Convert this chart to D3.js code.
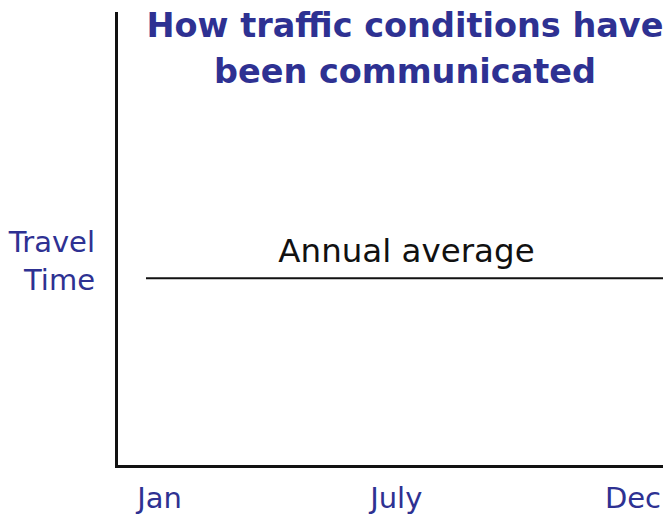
<!DOCTYPE html>
<html>
<head>
  <style>
    body { margin: 0; padding: 0; background: white; overflow: hidden; }
    svg { display: block; font-family: "DejaVu Sans", Verdana, sans-serif; }
  </style>
</head>
<body>
  <div id="chart"></div>
  <script src="https://cdnjs.cloudflare.com/ajax/libs/d3/7.8.5/d3.min.js"></script>
  <script>
    // chart content
    const titleLines = ['How traffic conditions have', 'been communicated'];
    const yLabelLines = ['Travel', 'Time'];
    const xTickLabels = ['Jan', 'July', 'Dec'];
    const averageLabel = 'Annual average';
    const annualAverage = [0.414];   // share of the y range

    const width = 663, height = 516;
    const blue = '#2e3192';
    const axisLeft = 116.5, axisBottom = 466.5, axisTop = 12;

    const svg = d3.select('#chart').append('svg')
      .attr('width', width)
      .attr('height', height);

    const x = d3.scalePoint()
      .domain(xTickLabels)
      .range([159.5, 633]);

    const y = d3.scaleLinear()
      .domain([0, 1])
      .range([axisBottom, axisTop]);

    // axes
    svg.append('line')
      .attr('x1', axisLeft).attr('x2', axisLeft)
      .attr('y1', y(1)).attr('y2', y(0))
      .attr('stroke', '#111').attr('stroke-width', 3);
    svg.append('line')
      .attr('x1', axisLeft - 1.5).attr('x2', width)
      .attr('y1', y(0)).attr('y2', y(0))
      .attr('stroke', '#111').attr('stroke-width', 3);

    // tick labels
    svg.selectAll('.tick-label')
      .data(xTickLabels)
      .enter()
      .append('text')
      .attr('class', 'tick-label')
      .attr('x', d => x(d))
      .attr('y', 508)
      .attr('text-anchor', 'middle')
      .attr('fill', blue)
      .attr('font-size', '29px')
      .text(d => d);

    // annual average line
    svg.selectAll('.avg')
      .data(annualAverage)
      .enter()
      .append('line')
      .attr('class', 'avg')
      .attr('x1', 146).attr('x2', width)
      .attr('y1', d => y(d)).attr('y2', d => y(d))
      .attr('stroke', '#111').attr('stroke-width', 2);

    svg.append('text')
      .attr('x', 406.5)
      .attr('y', y(annualAverage[0]) - 16)
      .attr('text-anchor', 'middle')
      .attr('fill', '#111')
      .attr('font-size', '32.5px')
      .text(averageLabel);

    // y label
    svg.selectAll('.ylab')
      .data(yLabelLines)
      .enter()
      .append('text')
      .attr('class', 'ylab')
      .attr('x', 95)
      .attr('y', (d, i) => 252 + i * 38)
      .attr('text-anchor', 'end')
      .attr('fill', blue)
      .attr('font-size', '29px')
      .text(d => d);

    // title
    svg.selectAll('.title')
      .data(titleLines)
      .enter()
      .append('text')
      .attr('class', 'title')
      .attr('x', 405)
      .attr('y', (d, i) => 37 + i * 46)
      .attr('text-anchor', 'middle')
      .attr('fill', blue)
      .attr('font-size', '33.5px')
      .attr('font-weight', 'bold')
      .text(d => d);
  </script>
</body>
</html>
